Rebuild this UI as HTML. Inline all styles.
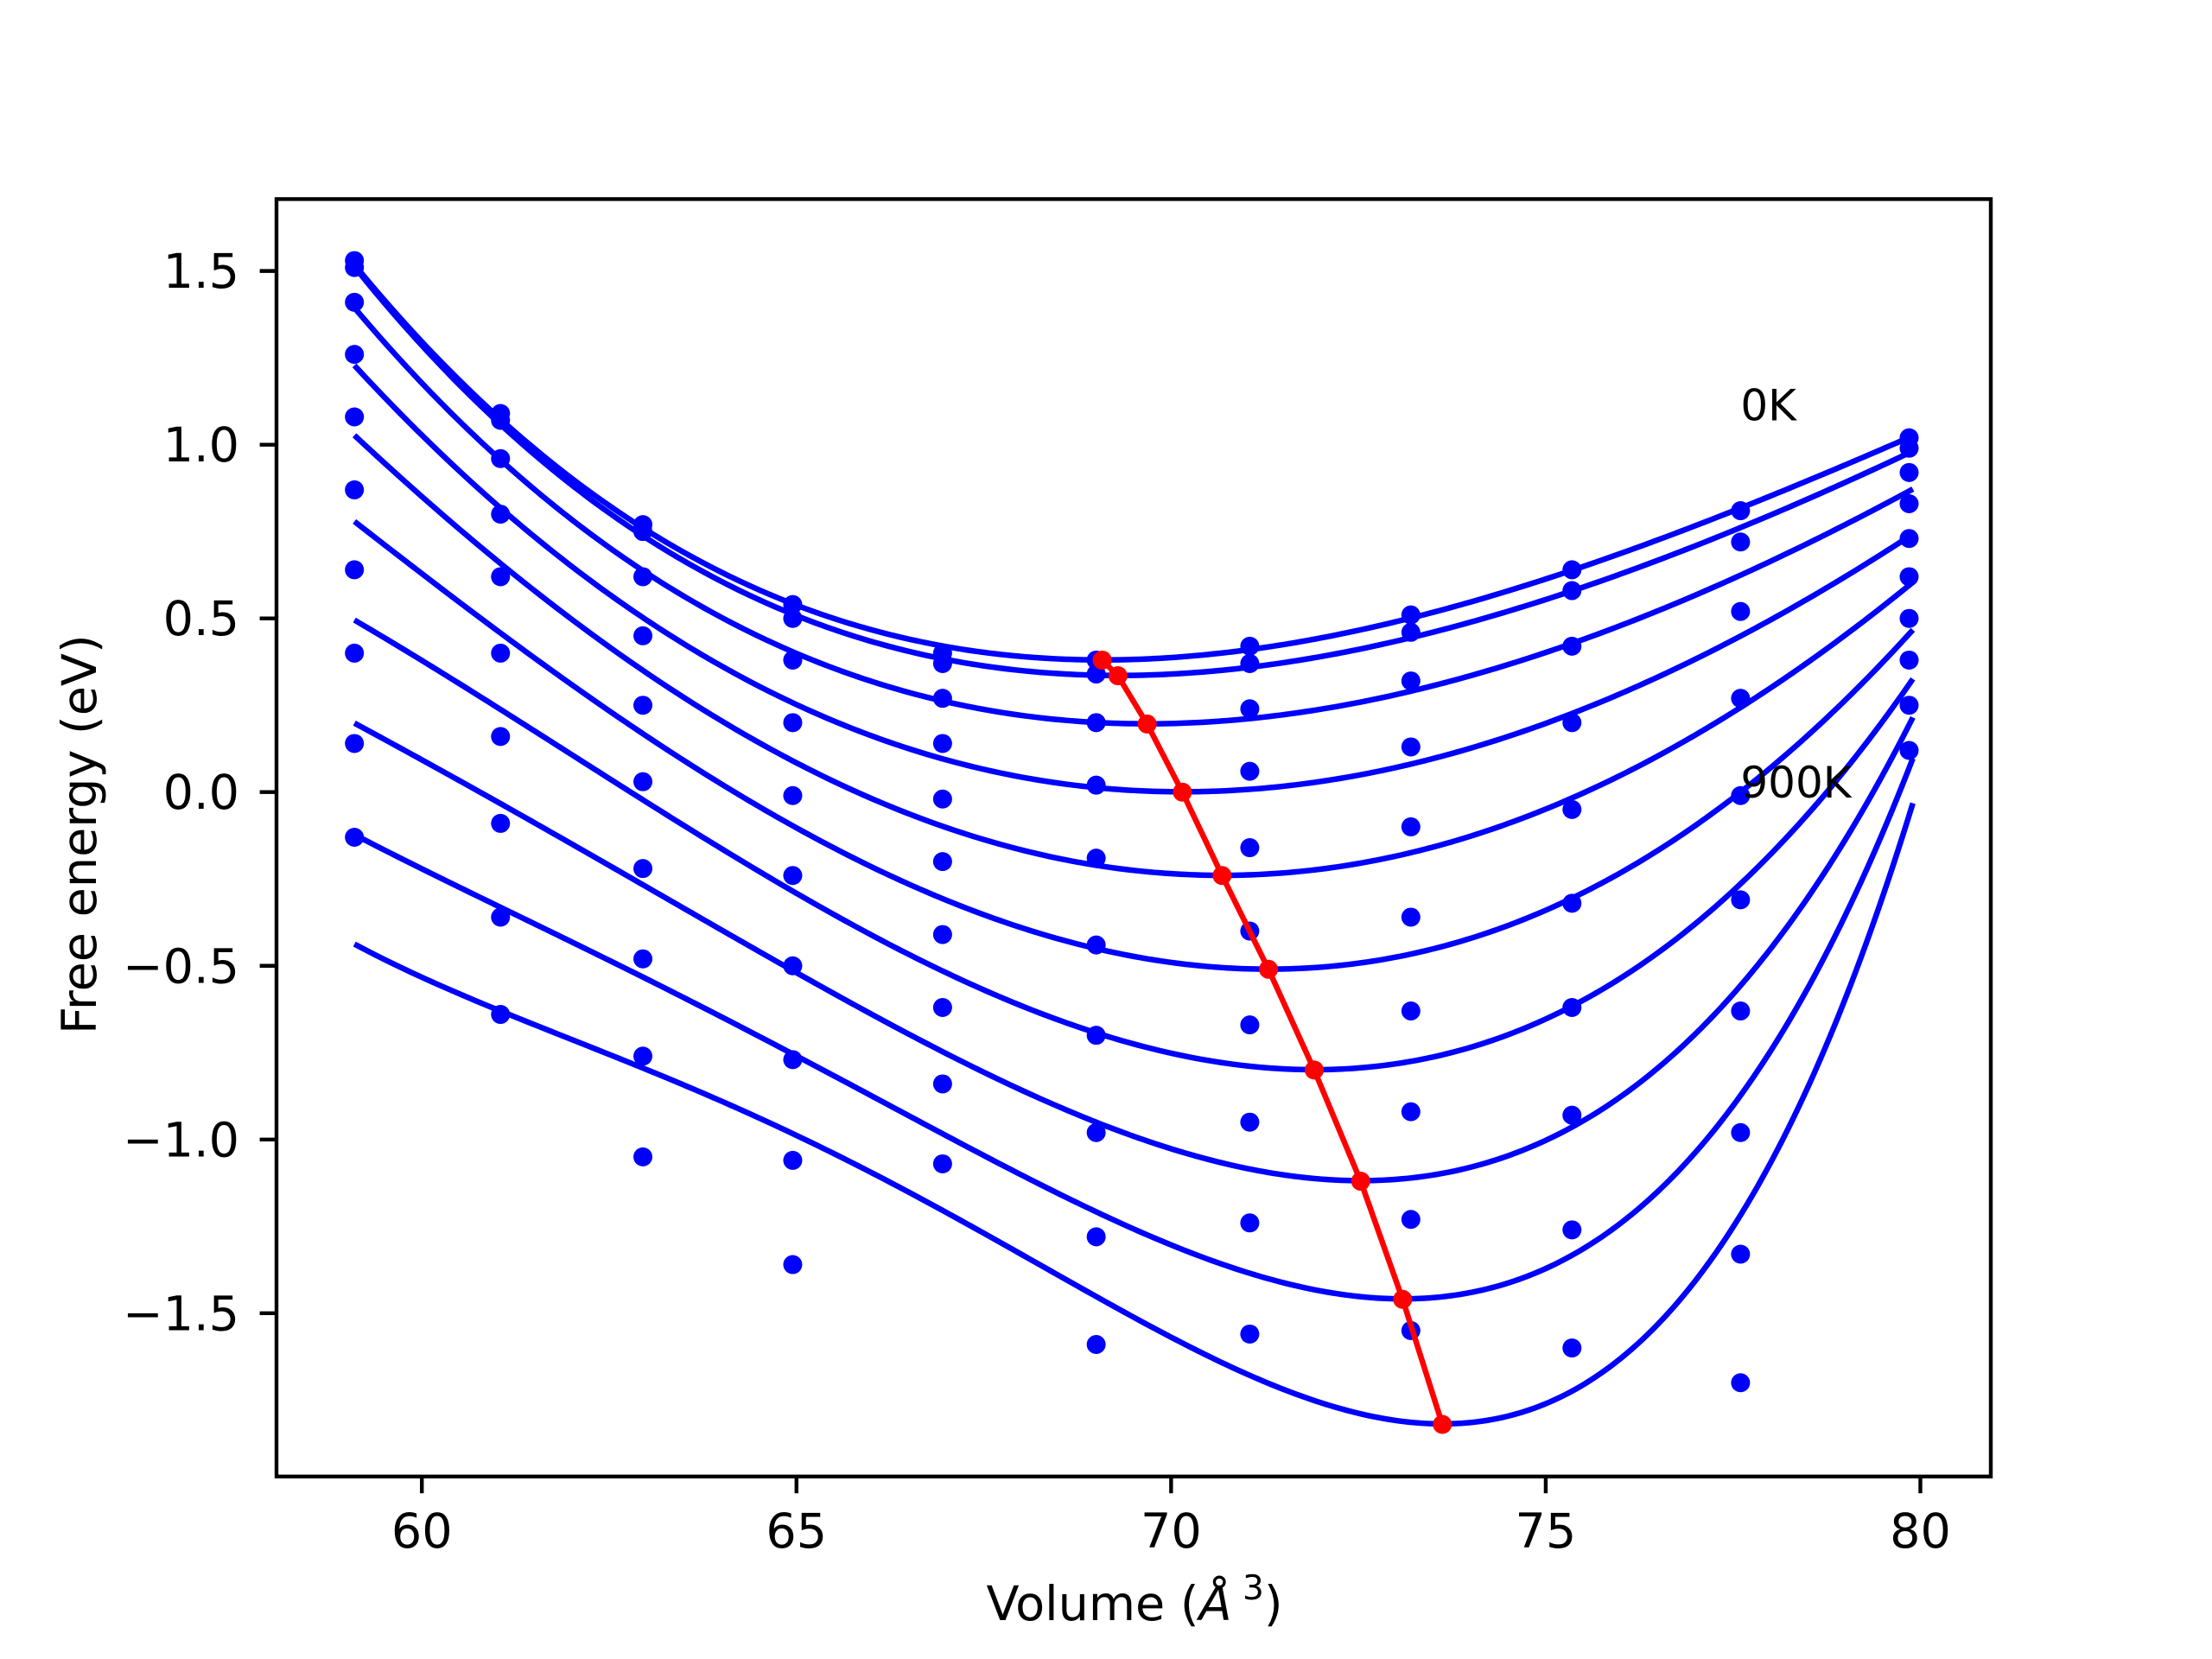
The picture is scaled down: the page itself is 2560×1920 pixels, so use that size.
<!DOCTYPE html>
<html><head><meta charset="utf-8">
<style>
html,body{margin:0;padding:0;background:#fff;}
svg{display:block;font-family:"DejaVu Sans","Liberation Sans",sans-serif;}
</style></head>
<body>
<svg id="chart" width="2560" height="1920" viewBox="0 0 2560 1920" xmlns="http://www.w3.org/2000/svg">
<rect x="0" y="0" width="2560" height="1920" fill="#fff"/>
<g id="marks"></g>
<g id="axes"></g>
<text x="1313" y="1875" font-size="55.6" text-anchor="middle">Volume (<tspan font-style="italic">Å</tspan><tspan font-size="39" dy="-24"> 3</tspan><tspan dy="24">)</tspan></text>
<text x="0" y="0" font-size="55.6" text-anchor="start" transform="translate(111,1197) rotate(-90)">Free energy (eV)</text>
</svg>
<script>
const volumes = [59.1, 61.05, 62.95, 64.95, 66.95, 69.0, 71.05, 73.2, 75.35, 77.6, 79.85];
const temperatures = ['0K','100K','200K','300K','400K','500K','600K','700K','800K','900K'];
const dots0 = [1.53, 1.09, 0.77, 0.54, 0.40, 0.38, 0.42, 0.51, 0.64, 0.81, 1.02];
const dots1 = [1.51, 1.07, 0.75, 0.50, 0.37, 0.34, 0.37, 0.46, 0.58, 0.72, 0.99];
const dots2 = [1.41, 0.96, 0.62, 0.38, 0.27, 0.20, 0.24, 0.32, 0.42, 0.52, 0.92];
const dots3 = [1.26, 0.80, 0.45, 0.20, 0.14, 0.02, 0.06, 0.13, 0.20, 0.27, 0.83];
const dots4 = [1.08, 0.62, 0.25, -0.01, -0.02, -0.19, -0.16, -0.10, -0.05, -0.01, 0.73];
const dots5 = [0.87, 0.40, 0.03, -0.24, -0.20, -0.44, -0.40, -0.36, -0.32, -0.31, 0.62];
const dots6 = [0.64, 0.16, -0.22, -0.50, -0.41, -0.70, -0.67, -0.63, -0.62, -0.63, 0.50];
const dots7 = [0.40, -0.09, -0.48, -0.77, -0.62, -0.98, -0.95, -0.92, -0.93, -0.98, 0.38];
const dots8 = [0.14, -0.36, -0.76, -1.06, -0.84, -1.28, -1.24, -1.23, -1.26, -1.33, 0.25];
const dots9 = [-0.13, -0.64, -1.05, -1.36, -1.07, -1.59, -1.56, -1.55, -1.60, -1.70, 0.12];
const minVolume = [69.08, 69.29, 69.68, 70.15, 70.68, 71.30, 71.91, 72.53, 73.09, 73.62];
const minEnergy = [0.38, 0.335, 0.196, 0.0, -0.24, -0.51, -0.80, -1.12, -1.46, -1.82];
const curveVolumes = [59.1, 61.0, 62.93, 64.91, 66.94, 68.99, 71.08, 73.23, 75.42, 77.63, 79.9];
const fit0 = [1.52, 1.08, 0.76, 0.55, 0.43, 0.39, 0.413, 0.514, 0.643, 0.816, 1.027];
const fit1 = [1.51, 1.07, 0.745, 0.516, 0.387, 0.346, 0.374, 0.465, 0.582, 0.749, 0.988];
const fit2 = [1.40, 0.96, 0.63, 0.408, 0.272, 0.213, 0.211, 0.297, 0.441, 0.633, 0.868];
const fit3 = [1.24, 0.80, 0.51, 0.275, 0.114, 0.028, 0.010, 0.077, 0.230, 0.461, 0.739];
const fit4 = [1.027, 0.672, 0.346, 0.087, -0.096, -0.192, -0.230, -0.173, -0.009, 0.259, 0.599];
const fit5 = [0.781, 0.461, 0.173, -0.096, -0.288, -0.432, -0.489, -0.470, -0.307, 0.000, 0.470];
const fit6 = [0.503, 0.230, -0.029, -0.268, -0.479, -0.671, -0.777, -0.777, -0.614, -0.288, 0.336];
const fit7 = [0.205, -0.038, -0.268, -0.508, -0.729, -0.940, -1.055, -1.103, -0.950, -0.556, 0.215];
const fit8 = [-0.125, -0.317, -0.537, -0.758, -0.979, -1.199, -1.343, -1.44, -1.324, -0.864, 0.096];
const fit9 = [-0.451, -0.604, -0.777, -0.998, -1.228, -1.458, -1.641, -1.78, -1.65, -1.247, -0.019];
const xTicks = [60, 65, 70, 75, 80];
const yTicks = [-1.5, -1.0, -0.5, 0.0, 0.5, 1.0, 1.5];
const dotSeries = [dots0,dots1,dots2,dots3,dots4,dots5,dots6,dots7,dots8,dots9];
const fitSeries = [fit0,fit1,fit2,fit3,fit4,fit5,fit6,fit7,fit8,fit9];

const L=320,R=2304,T=230.4,B=1708.8;
const xMin=58.06,xMax=80.94,yMin=-1.97,yMax=1.707;
function X(v){return L+(v-xMin)/(xMax-xMin)*(R-L);}
function Y(e){return T+(yMax-e)/(yMax-yMin)*(B-T);}
const NS='http://www.w3.org/2000/svg';
const marks=document.getElementById('marks');
const axes=document.getElementById('axes');
function mk(tag,attrs,parent){const e=document.createElementNS(NS,tag);for(const k in attrs)e.setAttribute(k,attrs[k]);parent.appendChild(e);return e;}

const DEG=4;
function tOf(v){return (v-69.5)/10;}
function solve(A,b){const n=b.length;for(let i=0;i<n;i++){let p=i;for(let r=i+1;r<n;r++)if(Math.abs(A[r][i])>Math.abs(A[p][i]))p=r;[A[i],A[p]]=[A[p],A[i]];[b[i],b[p]]=[b[p],b[i]];for(let r=i+1;r<n;r++){const f=A[r][i]/A[i][i];for(let c=i;c<n;c++)A[r][c]-=f*A[i][c];b[r]-=f*b[i];}}const x=new Array(n).fill(0);for(let i=n-1;i>=0;i--){let s=b[i];for(let c=i+1;c<n;c++)s-=A[i][c]*x[c];x[i]=s/A[i][i];}return x;}
function fitPoly(rows){
  const n=DEG+1;const A=[];const b=new Array(n).fill(0);
  for(let i=0;i<n;i++)A.push(new Array(n).fill(0));
  for(const r of rows){for(let i=0;i<n;i++){b[i]+=r.w*r.w*r.a[i]*r.y;for(let j=0;j<n;j++)A[i][j]+=r.w*r.w*r.a[i]*r.a[j];}}
  return solve(A,b);
}
for(let i=0;i<temperatures.length;i++){
  const rows=[];
  for(let j=0;j<curveVolumes.length;j++){
    if(Math.abs(curveVolumes[j]-minVolume[i])<0.5) continue;
    const t=tOf(curveVolumes[j]);const a=[];for(let k=0;k<=DEG;k++)a.push(Math.pow(t,k));
    rows.push({a:a,y:fitSeries[i][j],w:1});
  }
  const t0=tOf(minVolume[i]);
  const a0=[],d0=[];for(let k=0;k<=DEG;k++){a0.push(Math.pow(t0,k));d0.push(k?k*Math.pow(t0,k-1):0);}
  rows.push({a:a0,y:minEnergy[i],w:6});
  rows.push({a:d0,y:0,w:6});
  const c=fitPoly(rows);
  let d='';
  const v0=curveVolumes[0],v1=curveVolumes[curveVolumes.length-1];
  for(let k=0;k<=300;k++){const V=v0+(v1-v0)*k/300;const t=tOf(V);let E=0;for(let m=0;m<=DEG;m++)E+=c[m]*Math.pow(t,m);d+=(k?'L':'M')+X(V).toFixed(2)+','+Y(E).toFixed(2);}
  const path=mk('path',{d:d,fill:'none',stroke:'#0000ff','stroke-width':6.5,'stroke-linejoin':'round'},marks);
  
  
}
for(let i=0;i<dotSeries.length;i++){
  for(let j=0;j<volumes.length;j++){
    const c=mk('circle',{cx:X(volumes[j]),cy:Y(dotSeries[i][j]),r:11,fill:'#0000ff'},marks);
    
    
  }
}
let rd='';
for(let i=0;i<minVolume.length;i++){rd+=(i?'L':'M')+X(minVolume[i]).toFixed(2)+','+Y(minEnergy[i]).toFixed(2);}
const rl=mk('path',{d:rd,fill:'none',stroke:'#ff0000','stroke-width':6.5},marks);


for(let i=0;i<minVolume.length;i++){
  const c=mk('circle',{cx:X(minVolume[i]),cy:Y(minEnergy[i]),r:11,fill:'#ff0000'},marks);
  
  
}
const t0=mk('text',{x:X(77.6),y:Y(1.07),'font-size':50,fill:'#000'},marks);t0.textContent='0K';


const t9=mk('text',{x:X(77.6),y:Y(-0.016),'font-size':50,fill:'#000'},marks);t9.textContent='900K';



const fr=mk('rect',{x:L,y:T,width:R-L,height:B-T,fill:'none',stroke:'#000','stroke-width':4.4},axes);


for(const t of xTicks){
  const tk=mk('line',{x1:X(t),x2:X(t),y1:B,y2:B+19.4,stroke:'#000','stroke-width':4.4},axes);
  
  
  const lb=mk('text',{x:X(t),y:B+82,'font-size':55.6,'text-anchor':'middle',fill:'#000'},axes);
  lb.textContent=String(t);
  
  
}
for(const t of yTicks){
  const tk=mk('line',{x1:L-19.4,x2:L,y1:Y(t),y2:Y(t),stroke:'#000','stroke-width':4.4},axes);
  
  
  const lb=mk('text',{x:L-43,y:Y(t)+19.5,'font-size':55.6,'text-anchor':'end',fill:'#000'},axes);
  lb.textContent=(t<0?'\u2212':'')+Math.abs(t).toFixed(1);
  
  
}
</script>
</body></html>
